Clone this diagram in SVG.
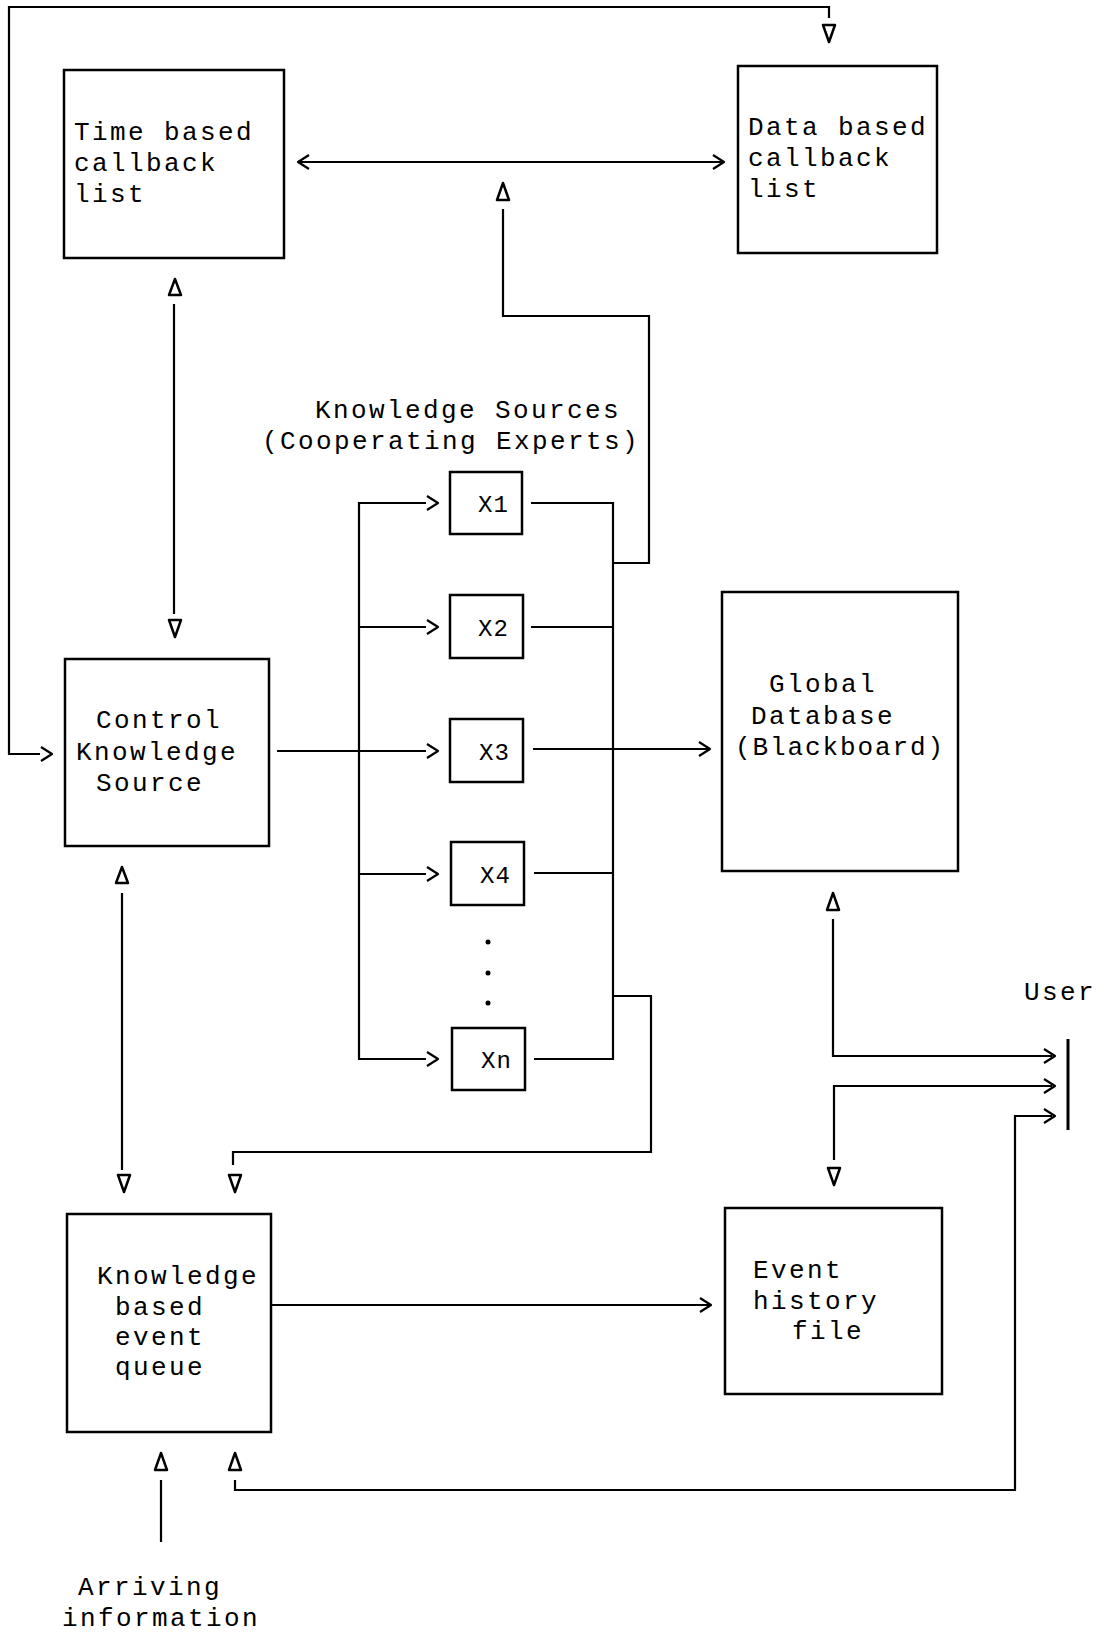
<svg xmlns="http://www.w3.org/2000/svg" width="1109" height="1633" viewBox="0 0 1109 1633">
<style>
.box{fill:none;stroke:#000;stroke-width:2.5}
.ln{fill:none;stroke:#000;stroke-width:2.2}
.hd{fill:none;stroke:#000;stroke-width:2.2;stroke-linejoin:round}
.tri{fill:#fff;stroke:#000;stroke-width:2.5;stroke-linejoin:round}
text{font-family:"Liberation Mono","Courier New",monospace;font-size:26px;letter-spacing:2.4px;fill:#000}
.x{font-size:24px;letter-spacing:1.1px}
</style>
<rect width="1109" height="1633" fill="#fff"/>
<g id="connectors">
  <path class="ln" d="M40,754 H9 V7 H829 V18"/>
  <polyline class="hd" points="41,747 52,754 41,761"/>
  <polygon class="tri" points="823,25 835,25 829,42"/>
  <path class="ln" d="M299,162 H723"/>
  <polyline class="hd" points="309,155 298,162 309,169"/>
  <polyline class="hd" points="713,155 724,162 713,169"/>
  <polygon class="tri" points="503,183 497,200 509,200"/>
  <path class="ln" d="M503,209 V316 H649 V563 H613"/>
  <polygon class="tri" points="175,279 169,295 181,295"/>
  <path class="ln" d="M174,304 V614"/>
  <polygon class="tri" points="169,620 181,620 175,637"/>
  <path class="ln" d="M277,751 H426"/>
  <path class="ln" d="M426,503 H359 V1059 H426"/>
  <path class="ln" d="M359,627 H426"/>
  <path class="ln" d="M359,874 H426"/>
  <polyline class="hd" points="427,496 438,503 427,510"/>
  <polyline class="hd" points="427,620 438,627 427,634"/>
  <polyline class="hd" points="427,744 438,751 427,758"/>
  <polyline class="hd" points="427,867 438,874 427,881"/>
  <polyline class="hd" points="427,1052 438,1059 427,1066"/>
  <path class="ln" d="M531,503 H613 V1059 H534"/>
  <path class="ln" d="M531,627 H613"/>
  <path class="ln" d="M534,873 H613"/>
  <path class="ln" d="M533,749 H708"/>
  <polyline class="hd" points="699,742 710,749 699,756"/>
  <path class="ln" d="M613,996 H651 V1152 H233 V1165"/>
  <polygon class="tri" points="229,1175 241,1175 235,1192"/>
  <polygon class="tri" points="122,867 116,883 128,883"/>
  <path class="ln" d="M122,893 V1170"/>
  <polygon class="tri" points="118,1175 130,1175 124,1192"/>
  <polygon class="tri" points="833,893 827,910 839,910"/>
  <path class="ln" d="M833,919 V1056 H1052"/>
  <polyline class="hd" points="1044,1049 1055,1056 1044,1063"/>
  <path class="ln" d="M1052,1086 H834 V1160"/>
  <polyline class="hd" points="1044,1079 1055,1086 1044,1093"/>
  <polygon class="tri" points="828,1168 840,1168 834,1185"/>
  <path class="ln" d="M1052,1116 H1015 V1490 H235 V1480"/>
  <polyline class="hd" points="1044,1109 1055,1116 1044,1123"/>
  <polygon class="tri" points="235,1453 229,1470 241,1470"/>
  <path class="ln" d="M271,1305 H709"/>
  <polyline class="hd" points="700,1298 711,1305 700,1312"/>
  <polygon class="tri" points="161,1453 155,1470 167,1470"/>
  <path class="ln" d="M161,1480 V1542"/>
</g>
<g id="time-callback">
  <rect class="box" x="64" y="70" width="220" height="188"/>
  <text x="74" y="140">Time based</text>
  <text x="74" y="171">callback</text>
  <text x="74" y="202">list</text>
</g>
<g id="data-callback">
  <rect class="box" x="738" y="66" width="199" height="187"/>
  <text x="748" y="135">Data based</text>
  <text x="748" y="166">callback</text>
  <text x="748" y="197">list</text>
</g>
<g id="ks-label">
  <text x="315" y="418">Knowledge Sources</text>
  <text x="262" y="449">(Cooperating Experts)</text>
</g>
<g id="x1"><rect class="box" x="450" y="472" width="72" height="62"/><text class="x" x="478" y="512">X1</text></g>
<g id="x2"><rect class="box" x="450" y="595" width="73" height="63"/><text class="x" x="478" y="636">X2</text></g>
<g id="x3"><rect class="box" x="450" y="719" width="73" height="63"/><text class="x" x="479" y="760">X3</text></g>
<g id="x4"><rect class="box" x="451" y="842" width="73" height="63"/><text class="x" x="480" y="883">X4</text></g>
<g id="dots">
  <circle cx="488" cy="942" r="2.5"/>
  <circle cx="488" cy="973" r="2.5"/>
  <circle cx="488" cy="1003" r="2.5"/>
</g>
<g id="xn"><rect class="box" x="452" y="1028" width="73" height="62"/><text class="x" x="481" y="1068">Xn</text></g>
<g id="control-ks">
  <rect class="box" x="65" y="659" width="204" height="187"/>
  <text x="96" y="728">Control</text>
  <text x="76" y="760">Knowledge</text>
  <text x="96" y="791">Source</text>
</g>
<g id="global-db">
  <rect class="box" x="722" y="592" width="236" height="279"/>
  <text x="769" y="692">Global</text>
  <text x="751" y="724">Database</text>
  <text x="735" y="755" style="letter-spacing:1.9px">(Blackboard)</text>
</g>
<g id="user">
  <text x="1024" y="1000">User</text>
  <line x1="1068" y1="1039" x2="1068" y2="1130" stroke="#000" stroke-width="3"/>
</g>
<g id="event-queue">
  <rect class="box" x="67" y="1214" width="204" height="218"/>
  <text x="97" y="1284">Knowledge</text>
  <text x="115" y="1315">based</text>
  <text x="115" y="1345">event</text>
  <text x="115" y="1375">queue</text>
</g>
<g id="event-history">
  <rect class="box" x="725" y="1208" width="217" height="186"/>
  <text x="753" y="1278">Event</text>
  <text x="753" y="1309">history</text>
  <text x="792" y="1339">file</text>
</g>
<g id="arriving">
  <text x="78" y="1595">Arriving</text>
  <text x="62" y="1626">information</text>
</g>
</svg>
